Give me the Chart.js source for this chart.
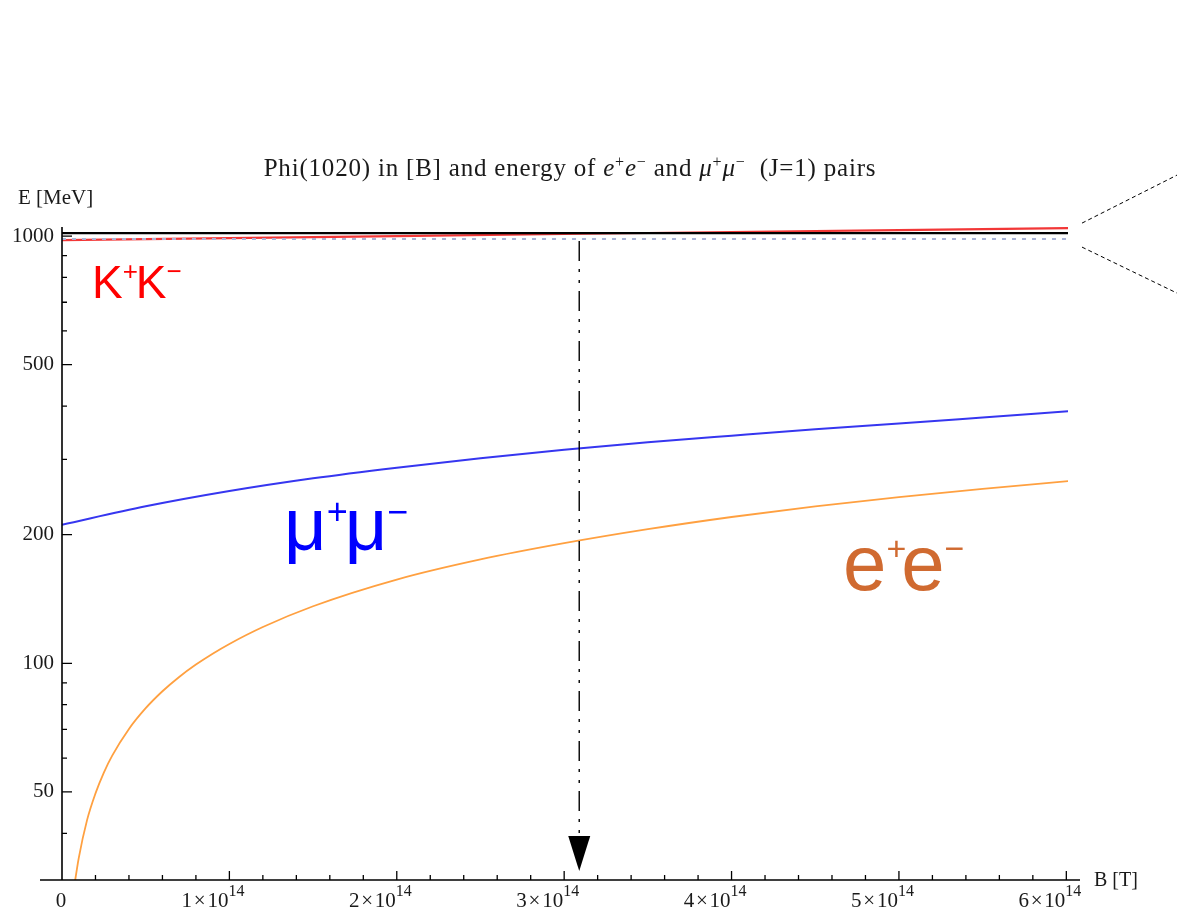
<!DOCTYPE html>
<html><head><meta charset="utf-8">
<script src="https://cdn.jsdelivr.net/npm/chart.js@4/dist/chart.umd.min.js"></script>
<style>html,body{margin:0;padding:0;background:#fff}#wrap{width:1177px;height:915px;position:relative}</style>
</head><body><div id="wrap"><canvas id="c" width="1177" height="915"></canvas></div>
<script>
// ---- data (B in tesla, E in MeV) ----
const B_KK = [0, 1e14, 2e14, 3e14, 4e14, 5e14, 6.02e14];
const E_KK = [978, 989, 1000, 1011, 1022, 1033, 1044];
const B_MUMU = [0, 0.5e14, 1e14, 1.5e14, 2e14, 2.5e14, 3e14, 3.5e14, 4e14, 4.5e14, 5e14, 5.5e14, 6.02e14];
const E_MUMU = [211, 233, 253, 271, 287, 302, 316, 329, 341, 353, 364, 376, 389];
const B_EE = [0.07e14, 0.1e14, 0.15e14, 0.2e14, 0.25e14, 0.3e14, 0.4e14, 0.5e14, 0.6e14, 0.7e14, 0.8e14, 0.9e14, 1e14, 1.2e14, 1.5e14, 2e14, 2.5e14, 3e14, 3.5e14, 4e14, 4.5e14, 5e14, 5.5e14, 6.02e14];
const E_EE = [29.5, 35, 43, 49.6, 55.5, 60.8, 70.2, 78.5, 86, 92.9, 99.3, 105.3, 111, 121.6, 136, 157, 175, 191, 206, 220, 233, 245, 256, 267];
const PHI_MASS = 1016;      // black horizontal line
const KK_THRESHOLD = 984;   // dotted line
const ARROW_B = 3.09e14;    // arrow position
const X_TICKS = [0, 1e14, 2e14, 3e14, 4e14, 5e14, 6e14];
const X_TICK_MANTISSA = ['0', '1', '2', '3', '4', '5', '6'];
const X_TICK_EXP = '14';
const Y_TICKS = [50, 100, 200, 500, 1000];
const Y_MINOR = [40, 60, 70, 80, 90, 300, 400, 600, 700, 800, 900];
const TITLE = 'Phi(1020) in [B] and energy of ';
const Y_TITLE = 'E [MeV]';
const X_TITLE = 'B [T]';

const pts = (xs, ys) => xs.map((v, i) => ({x: v, y: ys[i]}));
const X_MAX = 6.01e14;

function drawRuns(ctx, runs, x, y, measureOnly) {
  let cx = x;
  for (const r of runs) {
    ctx.font = r.font;
    if (r.color) ctx.fillStyle = r.color;
    const w = ctx.measureText(r.t).width;
    if (!measureOnly) ctx.fillText(r.t, cx, y + (r.dy || 0));
    cx += w + (r.gap || 0);
  }
  return cx - x;
}

const overlay = {
  id: 'overlay',
  afterDatasetsDraw(chart) {
    const {ctx, chartArea: a, scales: {x, y}} = chart;
    ctx.save();
    ctx.textBaseline = 'alphabetic';
    ctx.textAlign = 'left';
    // axes
    ctx.strokeStyle = '#000';
    ctx.lineWidth = 1.6;
    const x0 = x.getPixelForValue(0);
    ctx.beginPath();
    ctx.moveTo(40, a.bottom); ctx.lineTo(a.right + 12, a.bottom);
    ctx.moveTo(x0, a.top); ctx.lineTo(x0, a.bottom);
    ctx.stroke();
    ctx.lineWidth = 1.3;
    ctx.beginPath();
    for (const v of X_TICKS) { const px = x.getPixelForValue(v); if (v === 0) continue; ctx.moveTo(px, a.bottom); ctx.lineTo(px, a.bottom - 9); }
    for (let i = 0; i < X_TICKS.length - 1; i++) {
      for (let k = 1; k < 5; k++) {
        const v = X_TICKS[i] + (X_TICKS[i + 1] - X_TICKS[i]) * k / 5;
        const px = x.getPixelForValue(v);
        ctx.moveTo(px, a.bottom); ctx.lineTo(px, a.bottom - 5);
      }
    }
    for (const v of Y_TICKS) { const py = y.getPixelForValue(v); ctx.moveTo(x0, py); ctx.lineTo(x0 + 10, py); }
    for (const v of Y_MINOR) { const py = y.getPixelForValue(v); ctx.moveTo(x0, py); ctx.lineTo(x0 + 5, py); }
    ctx.stroke();

    // x tick labels
    ctx.fillStyle = '#1a1a1a';
    X_TICKS.forEach((v, i) => {
      const px = x.getPixelForValue(v);
      if (v === 0) {
        ctx.font = '21px "Liberation Serif", serif';
        ctx.textAlign = 'center';
        ctx.fillText(X_TICK_MANTISSA[i], px - 1, 907);
        ctx.textAlign = 'left';
        return;
      }
      const runs = [
        {t: X_TICK_MANTISSA[i] + '\u200a\u00d7\u200a10', font: '21px "Liberation Serif", serif'},
        {t: X_TICK_EXP, font: '16px "Liberation Serif", serif', dy: -11}
      ];
      const wBase = drawRuns(ctx, runs.slice(0, 1), 0, 0, true);
      drawRuns(ctx, runs, px - wBase - 1, 907);
    });

    // axis titles
    ctx.fillStyle = '#1a1a1a';
    ctx.font = '21px "Liberation Serif", serif';
    ctx.fillText(Y_TITLE, 18, 204);
    ctx.font = '20px "Liberation Serif", serif';
    ctx.fillText(X_TITLE, 1094, 886);

    // title
    const serif = '25px "Liberation Serif", serif';
    const serifI = 'italic 25px "Liberation Serif", serif';
    const sup = '16px "Liberation Serif", serif';
    const runs = [
      {t: TITLE, font: serif},
      {t: 'e', font: serifI}, {t: '+', font: sup, dy: -9},
      {t: 'e', font: serifI}, {t: '\u2212', font: sup, dy: -9},
      {t: ' and ', font: serif},
      {t: '\u03bc', font: serifI}, {t: '+', font: sup, dy: -9},
      {t: '\u03bc', font: serifI}, {t: '\u2212', font: sup, dy: -9},
      {t: '  (J=1) pairs', font: serif}
    ];
    ctx.fillStyle = '#1a1a1a';
    try { ctx.letterSpacing = '0.8px'; } catch (e) {}
    const tw = drawRuns(ctx, runs, 0, 0, true);
    drawRuns(ctx, runs, 570 - tw / 2, 176);
    try { ctx.letterSpacing = '0px'; } catch (e) {}

    // arrow
    const ax = x.getPixelForValue(ARROW_B);
    const ayTop = y.getPixelForValue(KK_THRESHOLD) + 2;
    ctx.strokeStyle = '#000';
    ctx.lineWidth = 1.4;
    ctx.setLineDash([20, 8, 3, 8, 3, 8]);
    ctx.beginPath(); ctx.moveTo(ax, ayTop); ctx.lineTo(ax, a.bottom - 44); ctx.stroke();
    ctx.setLineDash([]);
    ctx.fillStyle = '#000';
    ctx.beginPath();
    ctx.moveTo(ax - 11, a.bottom - 44); ctx.lineTo(ax + 11, a.bottom - 44); ctx.lineTo(ax, a.bottom - 9);
    ctx.closePath(); ctx.fill();

    // zoom indicator lines
    const yp = y.getPixelForValue(PHI_MASS);
    ctx.strokeStyle = '#000';
    ctx.lineWidth = 1;
    ctx.setLineDash([4, 3]);
    ctx.beginPath();
    ctx.moveTo(a.right + 14, yp - 10); ctx.lineTo(1177, yp - 58);
    ctx.moveTo(a.right + 14, yp + 14); ctx.lineTo(1177, yp + 60);
    ctx.stroke();
    ctx.setLineDash([]);

    // curve labels
    const sans = s => s + 'px "Liberation Sans", Arial, sans-serif';
    drawRuns(ctx, [
      {t: 'K', font: sans(46), color: '#ff0000'},
      {t: '+', font: sans(26), dy: -18, gap: -2},
      {t: 'K', font: sans(46)},
      {t: '\u2212', font: sans(26), dy: -18}
    ], 92, 298);
    drawRuns(ctx, [
      {t: '\u03bc', font: sans(74), color: '#0000ff'},
      {t: '+', font: sans(36), dy: -26, gap: -3},
      {t: '\u03bc', font: sans(74)},
      {t: '\u2212', font: sans(36), dy: -26}
    ], 284, 550);
    drawRuns(ctx, [
      {t: 'e', font: sans(78), color: '#d06a30'},
      {t: '+', font: sans(34), dy: -30, gap: -5},
      {t: 'e', font: sans(78)},
      {t: '\u2212', font: sans(34), dy: -30}
    ], 843, 590);
    ctx.restore();
  }
};

new Chart(document.getElementById('c'), {
  type: 'scatter',
  data: {
    datasets: [
      {label: 'phi', data: pts([0, X_MAX], [PHI_MASS, PHI_MASS]), showLine: true, borderColor: '#000', borderWidth: 2.2, pointRadius: 0},
      {label: 'KK threshold', data: pts([0, X_MAX], [KK_THRESHOLD, KK_THRESHOLD]), showLine: true, borderColor: '#a9b3d6', borderWidth: 2, borderDash: [4, 6], pointRadius: 0},
      {label: 'K+K-', data: pts(B_KK, E_KK), showLine: true, borderColor: 'rgba(240,20,20,0.85)', borderWidth: 2.2, pointRadius: 0},
      {label: 'mu+mu-', data: pts(B_MUMU, E_MUMU), showLine: true, borderColor: '#3636f0', borderWidth: 2, pointRadius: 0, cubicInterpolationMode: 'monotone'},
      {label: 'e+e-', data: pts(B_EE, E_EE), showLine: true, borderColor: '#ffa040', borderWidth: 1.8, pointRadius: 0, cubicInterpolationMode: 'monotone'}
    ]
  },
  options: {
    responsive: false,
    animation: false,
    devicePixelRatio: 1,
    layout: {padding: {top: 227, right: 109, bottom: 0, left: 0}},
    plugins: {legend: {display: false}, tooltip: {enabled: false}, title: {display: false}},
    scales: {
      x: {
        type: 'linear', min: 0, max: X_MAX,
        afterBuildTicks: s => { s.ticks = X_TICKS.map(v => ({value: v})); },
        afterFit: s => { s.height = 35; },
        ticks: {display: false},
        grid: {display: false, drawTicks: false},
        border: {display: false}
      },
      y: {
        type: 'logarithmic', min: 31.1, max: 1050,
        afterBuildTicks: s => { s.ticks = Y_TICKS.map(v => ({value: v})); },
        afterFit: s => { s.width = 62; },
        ticks: {color: '#1a1a1a', font: {family: '"Liberation Serif", serif', size: 21}, padding: 8, callback: v => String(v), autoSkip: false},
        grid: {display: false, drawTicks: false},
        border: {display: false}
      }
    }
  },
  plugins: [overlay]
});
</script></body></html>
